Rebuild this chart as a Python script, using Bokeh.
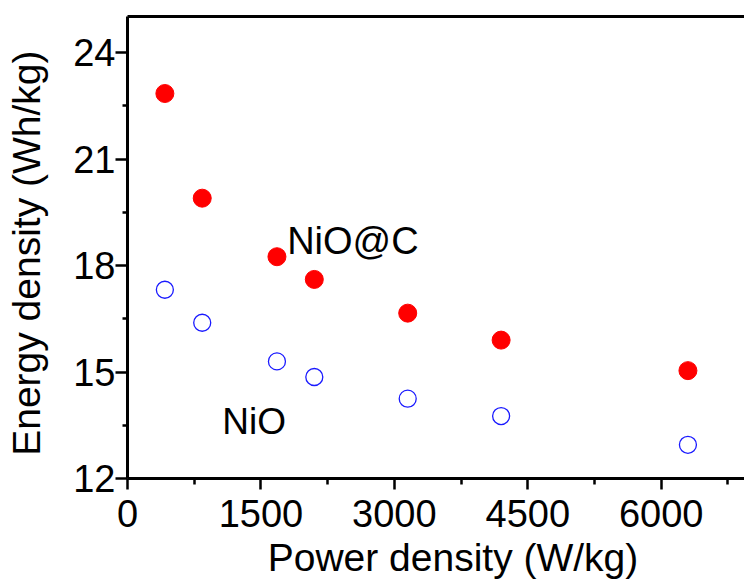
from bokeh.plotting import figure
from bokeh.models import FixedTicker, LinearAxis, Range1d
from bokeh.core.properties import value
from bokeh.embed import file_html
from bokeh.resources import INLINE

# ---- data ----
power_density = [420, 840, 1680, 2100, 3150, 4200, 6300]
energy_nio_c = [22.85, 19.90, 18.25, 17.61, 16.66, 15.90, 15.04]
energy_nio = [17.32, 16.39, 15.30, 14.86, 14.25, 13.76, 12.95]
x_major_ticks = [0, 1500, 3000, 4500, 6000]
x_minor_ticks = [750, 2250, 3750, 5250, 6750]
y_major_ticks = [12, 15, 18, 21, 24]
y_minor_ticks = [13.5, 16.5, 19.5, 22.5]
series_labels = ["NiO@C", "NiO"]
x_title = "Power density (W/kg)"
y_title = "Energy density (Wh/kg)"

FONT = "Liberation Sans"
X_TITLE_CENTER = 3659   # where the x title is centred, in data units
Y_TITLE_CENTER = 18.35  # where the y title is centred, in data units

p = figure(width=744, height=581, output_backend="svg", toolbar_location=None,
           x_range=Range1d(0, 6936), y_range=Range1d(12, 25.02),
           min_border_left=127, min_border_right=0, min_border_top=16,
           min_border_bottom=102)
p.grid.visible = False
p.outline_line_color = None
p.background_fill_color = "white"
p.border_fill_color = "white"

p.xaxis[0].ticker = FixedTicker(ticks=x_major_ticks, minor_ticks=x_minor_ticks)
p.yaxis[0].ticker = FixedTicker(ticks=y_major_ticks, minor_ticks=y_minor_ticks)

for ax in (p.xaxis[0], p.yaxis[0]):
    ax.axis_line_width = 3
    ax.axis_line_color = "black"
    ax.major_tick_line_width = 2.5
    ax.major_tick_line_color = "black"
    ax.minor_tick_line_width = 2.5
    ax.minor_tick_line_color = "black"
    ax.major_tick_in = 0
    ax.major_tick_out = 11
    ax.minor_tick_in = 0
    ax.minor_tick_out = 6
    ax.major_label_text_font = FONT
    ax.major_label_text_font_size = "38px"
    ax.major_label_text_color = "black"

p.xaxis[0].major_label_standoff = 10
p.yaxis[0].major_tick_out = 12
p.yaxis[0].minor_tick_out = 5
p.yaxis[0].major_label_standoff = 0


def title_axis(center, text, standoff, orientation):
    return LinearAxis(ticker=FixedTicker(ticks=[center], minor_ticks=[]),
                      major_label_overrides={center: text},
                      major_label_orientation=orientation,
                      axis_line_color=None, major_tick_line_color=None,
                      minor_tick_line_color=None, major_tick_in=0, major_tick_out=0,
                      minor_tick_in=0, minor_tick_out=0, major_label_standoff=standoff,
                      major_label_text_font=FONT, major_label_text_font_size="39px",
                      major_label_text_color="black")


# axis titles drawn as the single label of bare extra axes
p.add_layout(title_axis(X_TITLE_CENTER, x_title, 6, "horizontal"), "below")
ytitle_axis = title_axis(Y_TITLE_CENTER, y_title, 22, "vertical")
p.add_layout(ytitle_axis, "left")

top = LinearAxis(ticker=FixedTicker(ticks=[]), axis_line_width=3, axis_line_color="black",
                 major_tick_in=0, major_tick_out=0, minor_tick_in=0, minor_tick_out=0,
                 major_label_standoff=0)
p.add_layout(top, "above")

p.scatter(power_density, energy_nio_c, marker="circle", size=18,
          fill_color="#ff0000", line_color="#ff0000")
p.scatter(power_density, energy_nio, marker="circle", size=17,
          fill_color=None, line_color="#1a1aff", line_width=1.3)

p.text(x=[1795], y=[18.68], text=[series_labels[0]], text_font=value(FONT),
       text_font_size="38px", text_baseline="alphabetic", text_align="left",
       text_color="black")
p.text(x=[1065], y=[13.62], text=[series_labels[1]], text_font=value(FONT),
       text_font_size="37px", text_baseline="alphabetic", text_align="left",
       text_color="black")

open("out.html", "w").write(file_html(p, INLINE))
